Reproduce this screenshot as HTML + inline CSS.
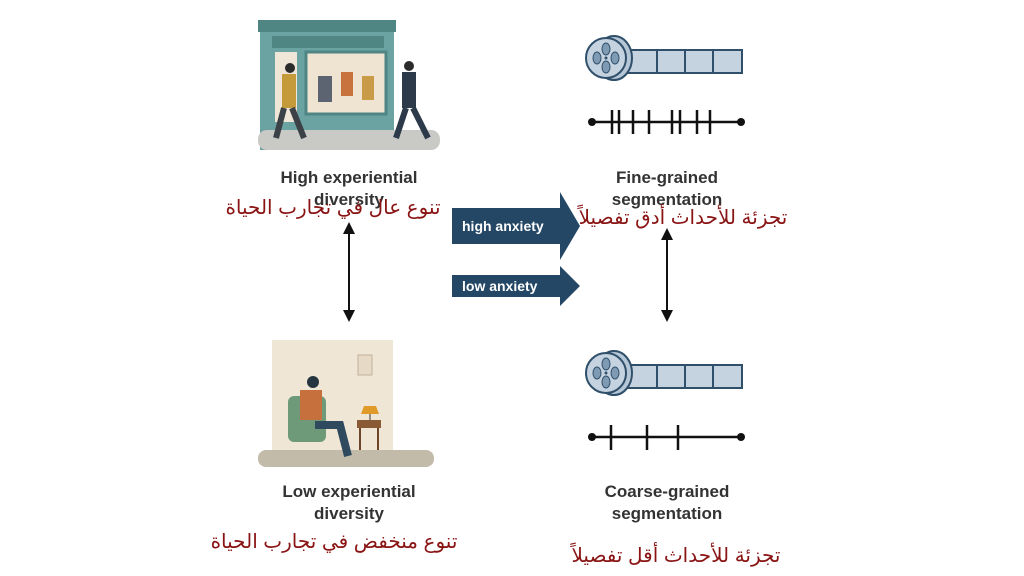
<!DOCTYPE html>
<html><head><meta charset="utf-8"><style>
body{margin:0;width:1024px;height:576px;background:#fff;position:relative;overflow:hidden;font-family:"Liberation Sans",sans-serif}
.t{position:absolute;font-weight:bold;color:#333;font-size:17px;text-align:center;line-height:22px;width:260px}
.a{position:absolute;color:#8a1414;font-family:"Liberation Sans","DejaVu Sans",sans-serif;font-size:20px;text-align:center;width:340px;direction:rtl;white-space:nowrap}
svg{position:absolute;left:0;top:0}
</style></head><body>
<svg width="1024" height="576">
<defs>
<g id="reel">
<rect x="628" y="-8" width="114" height="23" fill="#c5d3e0" stroke="#2f4f6a" stroke-width="2"/>
<line x1="657" y1="-8" x2="657" y2="15" stroke="#2f4f6a" stroke-width="2"/>
<line x1="685" y1="-8" x2="685" y2="15" stroke="#2f4f6a" stroke-width="2"/>
<line x1="713" y1="-8" x2="713" y2="15" stroke="#2f4f6a" stroke-width="2"/>
<ellipse cx="614" cy="0" rx="18" ry="22" fill="#b5c6d6" stroke="#2f4f6a" stroke-width="2"/>
<circle cx="606" cy="0" r="20" fill="#c5d3e0" stroke="#2f4f6a" stroke-width="2"/>
<ellipse cx="606" cy="-9" rx="4" ry="6" fill="#7f9ab3" stroke="#2f4f6a"/>
<ellipse cx="606" cy="9" rx="4" ry="6" fill="#7f9ab3" stroke="#2f4f6a"/>
<ellipse cx="597" cy="0" rx="4" ry="6" fill="#7f9ab3" stroke="#2f4f6a"/>
<ellipse cx="615" cy="0" rx="4" ry="6" fill="#7f9ab3" stroke="#2f4f6a"/>
<circle cx="606" cy="0" r="1.5" fill="#2f4f6a"/>
</g>
<marker id="ah" markerWidth="6" markerHeight="6" refX="3" refY="3" orient="auto-start-reverse"><path d="M0,0 L6,3 L0,6 Z" fill="#111"/></marker>
</defs>
<rect x="258" y="20" width="138" height="12" fill="#4f8684"/>
<rect x="260" y="32" width="134" height="118" fill="#6aa3a2"/>
<rect x="272" y="36" width="112" height="12" fill="#4f8684"/>
<rect x="275" y="52" width="22" height="70" fill="#efe6d8"/>
<rect x="306" y="52" width="80" height="62" fill="#efe3d2" stroke="#4f8684" stroke-width="3"/>
<rect x="318" y="76" width="14" height="26" fill="#5b6470"/>
<rect x="341" y="72" width="12" height="24" fill="#c8733e"/>
<rect x="362" y="76" width="12" height="24" fill="#c99a48"/>
<rect x="258" y="130" width="182" height="20" rx="9" fill="#c9c9c6"/>
<rect x="282" y="74" width="14" height="34" fill="#c49a3b"/>
<circle cx="290" cy="68" r="5" fill="#2b2b2b"/>
<path d="M284 108 L276 138 M292 108 L304 138" stroke="#3b4146" stroke-width="6"/>
<rect x="402" y="72" width="14" height="36" fill="#2c3a4a"/>
<circle cx="409" cy="66" r="5" fill="#2b2b2b"/>
<path d="M406 108 L396 138 M413 108 L428 138" stroke="#2c3a4a" stroke-width="6"/>
<rect x="272" y="340" width="121" height="112" fill="#efe6d6"/>
<rect x="358" y="355" width="14" height="20" fill="#e6dac6" stroke="#c2b29a"/>
<rect x="258" y="450" width="176" height="17" rx="8" fill="#c3bba9"/>
<rect x="288" y="396" width="38" height="46" rx="6" fill="#6e9a7a"/>
<rect x="300" y="390" width="22" height="30" fill="#c5703d"/>
<circle cx="313" cy="382" r="6" fill="#263640"/>
<path d="M315 425 L340 425 L348 456" stroke="#2f4a5e" stroke-width="8" fill="none"/>
<rect x="357" y="420" width="24" height="8" fill="#8a5a34"/>
<path d="M360 428 V450 M378 428 V450" stroke="#6e4528" stroke-width="2"/>
<path d="M364 406 L376 406 L379 414 L361 414 Z" fill="#e09a2a"/>
<line x1="370" y1="414" x2="370" y2="420" stroke="#333"/>
<use href="#reel" transform="translate(0,58)"/>
<use href="#reel" transform="translate(0,373)"/>
<line x1="592" y1="122" x2="741" y2="122" stroke="#111" stroke-width="2.5"/>
<circle cx="592" cy="122" r="4" fill="#111"/><circle cx="741" cy="122" r="4" fill="#111"/>
<g stroke="#111" stroke-width="2.5">
<line x1="612" y1="110" x2="612" y2="134"/><line x1="619" y1="110" x2="619" y2="134"/><line x1="633" y1="110" x2="633" y2="134"/><line x1="649" y1="110" x2="649" y2="134"/><line x1="672" y1="110" x2="672" y2="134"/><line x1="680" y1="110" x2="680" y2="134"/><line x1="697" y1="110" x2="697" y2="134"/><line x1="710" y1="110" x2="710" y2="134"/>
</g>
<line x1="592" y1="437" x2="741" y2="437" stroke="#111" stroke-width="2.5"/>
<circle cx="592" cy="437" r="4" fill="#111"/><circle cx="741" cy="437" r="4" fill="#111"/>
<g stroke="#111" stroke-width="2.5">
<line x1="611" y1="425" x2="611" y2="450"/><line x1="647" y1="425" x2="647" y2="450"/><line x1="678" y1="425" x2="678" y2="450"/>
</g>
<line x1="349" y1="228" x2="349" y2="316" stroke="#111" stroke-width="2" marker-start="url(#ah)" marker-end="url(#ah)"/>
<line x1="667" y1="234" x2="667" y2="316" stroke="#111" stroke-width="2" marker-start="url(#ah)" marker-end="url(#ah)"/>
<path d="M452 208 H560 V192 L580 226 L560 260 V244 H452 Z" fill="#254766"/>
<path d="M452 275 H560 V266 L580 286 L560 306 V297 H452 Z" fill="#254766"/>
<text x="462" y="231" font-family="Liberation Sans" font-weight="bold" font-size="14" fill="#fff">high anxiety</text>
<text x="462" y="291" font-family="Liberation Sans" font-weight="bold" font-size="14" fill="#fff">low anxiety</text>
</svg>
<div class="t" style="left:219px;top:167px">High experiential<br>diversity</div>
<div class="a" style="left:163px;top:195px">تنوع عال في تجارب الحياة</div>
<div class="t" style="left:537px;top:167px">Fine-grained<br>segmentation</div>
<div class="a" style="left:513px;top:205px">تجزئة للأحداث أدق تفصيلاً</div>
<div class="t" style="left:219px;top:481px">Low experiential<br>diversity</div>
<div class="a" style="left:164px;top:529px">تنوع منخفض في تجارب الحياة</div>
<div class="t" style="left:537px;top:481px">Coarse-grained<br>segmentation</div>
<div class="a" style="left:506px;top:543px">تجزئة للأحداث أقل تفصيلاً</div>
</body></html>
